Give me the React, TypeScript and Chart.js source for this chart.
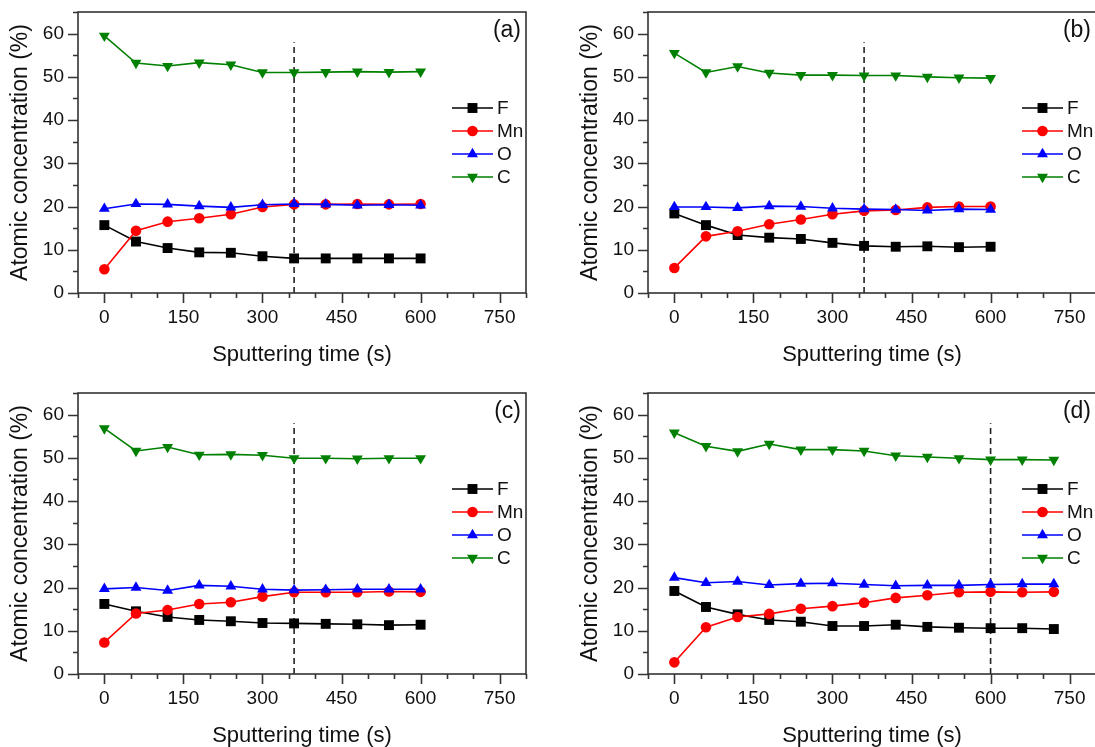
import React, { useEffect, useRef } from 'react';
import { Chart, registerables } from 'chart.js';

Chart.register(...registerables);

const FONT = "'Liberation Sans', Arial, Helvetica, sans-serif";

// ---- data ----
const timesABC = [0, 60, 120, 180, 240, 300, 360, 420, 480, 540, 600];
const timesD = [0, 60, 120, 180, 240, 300, 360, 420, 480, 540, 600, 660, 720];

const fA = [15.7, 11.9, 10.4, 9.4, 9.3, 8.5, 8.0, 8.0, 8.0, 8.0, 8.0];
const mnA = [5.5, 14.4, 16.5, 17.3, 18.2, 19.9, 20.5, 20.5, 20.6, 20.5, 20.6];
const oA = [19.5, 20.6, 20.5, 20.1, 19.8, 20.4, 20.6, 20.5, 20.3, 20.4, 20.3];
const cA = [59.5, 53.2, 52.5, 53.3, 52.8, 51.0, 51.0, 51.1, 51.2, 51.1, 51.2];

const fB = [18.4, 15.7, 13.4, 12.8, 12.5, 11.6, 10.9, 10.7, 10.8, 10.6, 10.7];
const mnB = [5.8, 13.1, 14.3, 15.9, 17.0, 18.2, 19.0, 19.2, 19.8, 20.0, 20.0];
const oB = [19.9, 19.9, 19.7, 20.1, 20.0, 19.6, 19.4, 19.3, 19.1, 19.4, 19.3];
const cB = [55.5, 51.0, 52.4, 50.9, 50.4, 50.4, 50.3, 50.3, 50.0, 49.8, 49.7];

const fC = [16.2, 14.5, 13.2, 12.5, 12.2, 11.8, 11.7, 11.6, 11.5, 11.3, 11.4];
const mnC = [7.3, 14.0, 14.8, 16.2, 16.6, 17.9, 18.9, 18.9, 18.9, 19.1, 19.0];
const oC = [19.7, 20.0, 19.3, 20.5, 20.3, 19.6, 19.4, 19.5, 19.6, 19.6, 19.6];
const cC = [56.8, 51.6, 52.5, 50.7, 50.8, 50.6, 49.9, 49.9, 49.8, 49.9, 49.9];

const fD = [19.2, 15.5, 13.8, 12.5, 12.1, 11.1, 11.1, 11.4, 10.9, 10.7, 10.6, 10.6, 10.4];
const mnD = [2.7, 10.8, 13.2, 13.9, 15.1, 15.7, 16.5, 17.6, 18.2, 18.9, 19.0, 18.9, 19.0];
const oD = [22.3, 21.1, 21.4, 20.6, 20.9, 21.0, 20.7, 20.4, 20.5, 20.5, 20.7, 20.8, 20.8];
const cD = [55.8, 52.7, 51.5, 53.2, 51.9, 51.9, 51.6, 50.5, 50.2, 49.9, 49.6, 49.6, 49.5];

const panelLabels = ['(a)', '(b)', '(c)', '(d)'];
const panelTimes = [timesABC, timesABC, timesABC, timesD];
const panelSeries = [
  [fA, mnA, oA, cA],
  [fB, mnB, oB, cB],
  [fC, mnC, oC, cC],
  [fD, mnD, oD, cD],
];
const dashTimes = [360, 360, 360, 600];
const dashRange = [0, 58];

const seriesNames = ['F', 'Mn', 'O', 'C'];
const seriesColors = ['#000000', '#ff0000', '#0000ff', '#008000'];
const seriesShapes = ['rect', 'circle', 'triangle', 'triangle'];
const seriesRotation = [0, 0, 0, 180];
const seriesRadius = [7, 5.3, 6.3, 6.3];

const xMin = -50, xMax = 800, xStep = 50, xMajor = 150;
const yMin = 0, yMax = 65, yStep = 5, yMajor = 10;

const xTitle = 'Sputtering time (s)';
const yTitle = 'Atomic concentration (%)';

const CW = 545, CH = 373;
const panelPos = [
  [0, 0],
  [570, 0],
  [0, 381],
  [570, 381],
];

function drawMarker(ctx: CanvasRenderingContext2D, style: string, x: number, y: number, r: number, rot: number) {
  ctx.beginPath();
  if (style === 'circle') {
    ctx.arc(x, y, r, 0, Math.PI * 2);
  } else if (style === 'rect') {
    const s = Math.SQRT1_2 * r;
    ctx.rect(x - s, y - s, 2 * s, 2 * s);
  } else {
    let rad = (rot * Math.PI) / 180;
    for (let k = 0; k < 3; k++) {
      const px = x + Math.sin(rad) * r;
      const py = y - Math.cos(rad) * r;
      if (k === 0) ctx.moveTo(px, py);
      else ctx.lineTo(px, py);
      rad += (2 * Math.PI) / 3;
    }
    ctx.closePath();
  }
  ctx.fill();
}

function makeDecor(label: string) {
  return {
    id: 'decor',
    afterDraw(chart: any) {
      const ctx: CanvasRenderingContext2D = chart.ctx;
      const ca = chart.chartArea;
      const xs = chart.scales.x;
      const ys = chart.scales.y;
      ctx.save();
      // frame
      ctx.strokeStyle = '#333';
      ctx.lineWidth = 1.6;
      ctx.strokeRect(ca.left, ca.top, ca.right - ca.left, ca.bottom - ca.top);
      // ticks
      ctx.beginPath();
      for (let v = xMin; v <= xMax; v += xStep) {
        const px = Math.round(xs.getPixelForValue(v)) + 0.5;
        const len = v % xMajor === 0 ? 10 : 5;
        ctx.moveTo(px, ca.bottom);
        ctx.lineTo(px, ca.bottom + len);
      }
      for (let v = yMin; v <= yMax; v += yStep) {
        const py = Math.round(ys.getPixelForValue(v)) + 0.5;
        const len = v % yMajor === 0 ? 10 : 5;
        ctx.moveTo(ca.left - len, py);
        ctx.lineTo(ca.left, py);
      }
      ctx.stroke();
      // legend
      ctx.font = `19px ${FONT}`;
      ctx.textBaseline = 'middle';
      ctx.textAlign = 'left';
      for (let i = 0; i < seriesNames.length; i++) {
        const y = ca.top + 96 + i * 23;
        ctx.strokeStyle = seriesColors[i];
        ctx.fillStyle = seriesColors[i];
        ctx.lineWidth = 1.6;
        ctx.beginPath();
        ctx.moveTo(ca.right - 74, y);
        ctx.lineTo(ca.right - 33, y);
        ctx.stroke();
        drawMarker(ctx, seriesShapes[i], ca.right - 53.5, y, seriesRadius[i], seriesRotation[i]);
        ctx.fillStyle = '#111';
        ctx.fillText(seriesNames[i], ca.right - 29, y + 1);
      }
      // panel label
      ctx.font = `23px ${FONT}`;
      ctx.textAlign = 'right';
      ctx.fillStyle = '#111';
      ctx.fillText(label, ca.right - 5, ca.top + 19);
      ctx.restore();
    },
  };
}

function Panel({ idx }: { idx: number }) {
  const ref = useRef<HTMLCanvasElement>(null);
  useEffect(() => {
    const canvas = ref.current;
    if (!canvas) return;
    const times = panelTimes[idx];
    const series = panelSeries[idx];
    const datasets: any[] = series.map((vals, i) => ({
      label: seriesNames[i],
      data: vals.map((v, j) => ({ x: times[j], y: v })),
      borderColor: seriesColors[i],
      backgroundColor: seriesColors[i],
      borderWidth: 1.6,
      pointStyle: seriesShapes[i],
      pointRotation: seriesRotation[i],
      pointRadius: seriesRadius[i],
      pointBorderWidth: 0,
      pointBackgroundColor: seriesColors[i],
      tension: 0,
      order: 4 - i,
    }));
    datasets.push({
      label: 'marker',
      data: [
        { x: dashTimes[idx], y: dashRange[0] },
        { x: dashTimes[idx], y: dashRange[1] },
      ],
      borderColor: '#222',
      borderWidth: 1.6,
      borderDash: [6, 4],
      pointRadius: 0,
      order: 10,
    });
    const chart = new Chart(canvas, {
      type: 'line',
      data: { datasets },
      plugins: [makeDecor(panelLabels[idx])],
      options: {
        animation: false,
        responsive: false,
        maintainAspectRatio: false,
        layout: { padding: { top: 12, right: 19, left: 0, bottom: 0 } },
        plugins: { legend: { display: false }, tooltip: { enabled: false } },
        scales: {
          x: {
            type: 'linear',
            min: xMin,
            max: xMax,
            grid: { drawOnChartArea: false, drawTicks: false },
            border: { display: false },
            ticks: {
              stepSize: xStep,
              autoSkip: false,
              maxRotation: 0,
              padding: 13,
              color: '#111',
              font: { family: FONT, size: 19 },
              callback: (v: any) => (v % xMajor === 0 && v >= 0 ? String(v) : ''),
            },
            title: {
              display: true,
              text: xTitle,
              color: '#111',
              font: { family: FONT, size: 22 },
              padding: { top: 0, bottom: 5 },
            },
            afterFit: (s: any) => {
              s.height = 80;
              s.paddingLeft = 0;
              s.paddingRight = 0;
            },
          },
          y: {
            type: 'linear',
            min: yMin,
            max: yMax,
            grid: { drawOnChartArea: false, drawTicks: false },
            border: { display: false },
            ticks: {
              stepSize: yStep,
              autoSkip: false,
              padding: 14,
              color: '#111',
              font: { family: FONT, size: 19 },
              callback: (v: any) => (v % yMajor === 0 && v <= 60 ? String(v) : ''),
            },
            title: {
              display: true,
              text: yTitle,
              color: '#111',
              font: { family: FONT, size: 23 },
              padding: { top: 7, bottom: 0 },
            },
            afterFit: (s: any) => {
              s.width = 78;
              s.paddingTop = 0;
              s.paddingBottom = 0;
            },
          },
        },
      } as any,
    });
    return () => chart.destroy();
  }, [idx]);
  const [left, top] = panelPos[idx];
  return (
    <div style={{ position: 'absolute', left, top, width: CW, height: CH }}>
      <canvas ref={ref} width={CW} height={CH} style={{ display: 'block', width: CW, height: CH }} />
    </div>
  );
}

export default function App() {
  return (
    <div
      style={{
        position: 'fixed',
        left: 0,
        top: 0,
        width: 1095,
        height: 747,
        overflow: 'hidden',
        background: '#ffffff',
      }}
    >
      {[0, 1, 2, 3].map((i) => (
        <Panel key={i} idx={i} />
      ))}
    </div>
  );
}
